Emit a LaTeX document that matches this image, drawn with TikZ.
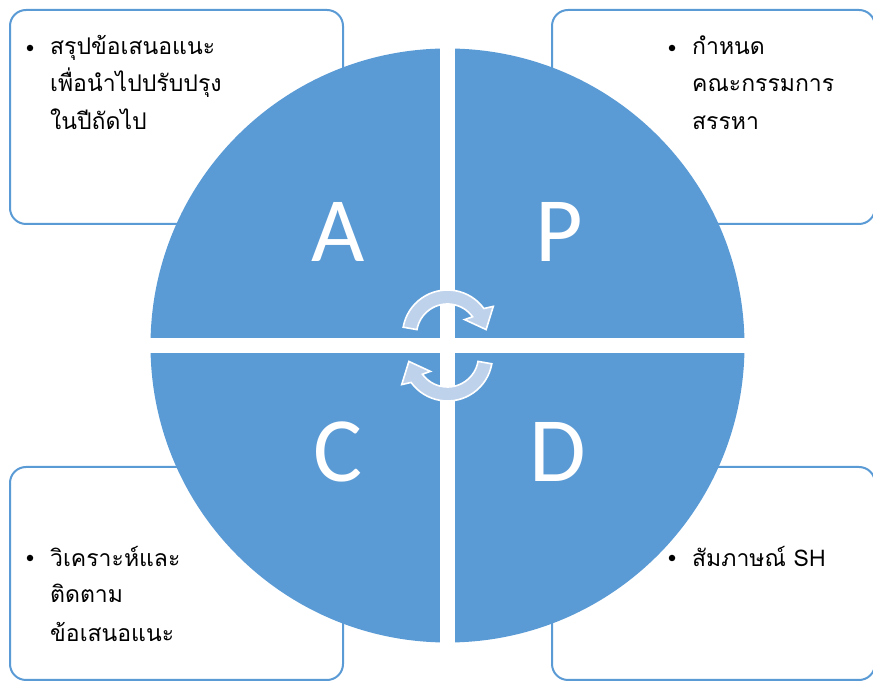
\documentclass[tikz,border=0pt]{standalone}
\usepackage{fontspec}
\newfontfamily\thaifont[Script=Thai]{Loma}
\newfontfamily\letterfont{Carlito}
\definecolor{pdcablue}{HTML}{5B9BD5}
\definecolor{arrowfill}{HTML}{BED2EC}
\tikzset{
  sidebox/.style={draw=pdcablue, line width=2pt, fill=white, rounded corners=16pt},
  letter/.style={text=white, font=\letterfont\fontsize{92}{92}\selectfont, inner sep=0pt},
  thline/.style={font=\thaifont\fontsize{23}{37}\selectfont, text=black, inner sep=0pt, anchor=base west},
  bulletdot/.style={circle, fill=black, inner sep=0pt, minimum size=6.5pt},
  cyclearrow/.style={fill=arrowfill, draw=white, line width=1.6pt, line join=miter},
}
\begin{document}
\begin{tikzpicture}[x=1pt,y=1pt]
\useasboundingbox (0,0) rectangle (873,682);
\clip (0,0) rectangle (873,682);
% side boxes
\draw[sidebox] (10,458) rectangle (343,672);
\draw[sidebox] (552,458) rectangle (875,672);
\draw[sidebox] (10,2) rectangle (343,215);
\draw[sidebox] (552,2) rectangle (875,215);
% circle
\fill[pdcablue] (447.5,336.5) circle[radius=297pt];
\fill[white] (440,30) rectangle (455,645);
\fill[white] (140,329) rectangle (755,344);
% letters
\node[letter] (lA) at (338,450) {A};
\node[letter] (lP) at (559,450) {P};
\node[letter] (lC) at (338,230) {C};
\node[letter] (lD) at (558,230) {D};
% cycle arrows
\begin{scope}[shift={(447.5,347)}]
\filldraw[cyclearrow] (170:45pt) arc[start angle=170, end angle=36, radius=45pt]
  -- (32:54pt) -- (8:39pt) -- (42:23pt) -- (36:31pt)
  arc[start angle=36, end angle=170, radius=31pt] -- cycle;
\end{scope}
\begin{scope}[shift={(447.5,326)}, rotate=180]
\filldraw[cyclearrow] (170:45pt) arc[start angle=170, end angle=36, radius=45pt]
  -- (32:54pt) -- (8:39pt) -- (42:23pt) -- (36:31pt)
  arc[start angle=36, end angle=170, radius=31pt] -- cycle;
\end{scope}
% texts top-left
\node[bulletdot] (b1) at (30,634) {};
\node[thline] (t1a) at (50,627) {สรุปข้อเสนอแนะ};
\node[thline] (t1b) at (50,590) {เพื่อนำไปปรับปรุง};
\node[thline] (t1c) at (50,552) {ในปีถัดไป};
% top-right
\node[bulletdot] (b2) at (672,634) {};
\node[thline] (t2a) at (692,627) {กำหนด};
\node[thline] (t2b) at (692,590) {คณะกรรมการ};
\node[thline] (t2c) at (692,552) {สรรหา};
% bottom-left
\node[bulletdot] (b3) at (30,124) {};
\node[thline] (t3a) at (50,115) {วิเคราะห์และ};
\node[thline] (t3b) at (50,79) {ติดตาม};
\node[thline] (t3c) at (50,40) {ข้อเสนอแนะ};
% bottom-right
\node[bulletdot] (b4) at (672,124) {};
\node[thline] (t4a) at (692,115) {สัมภาษณ์ SH};
\end{tikzpicture}
\end{document}
